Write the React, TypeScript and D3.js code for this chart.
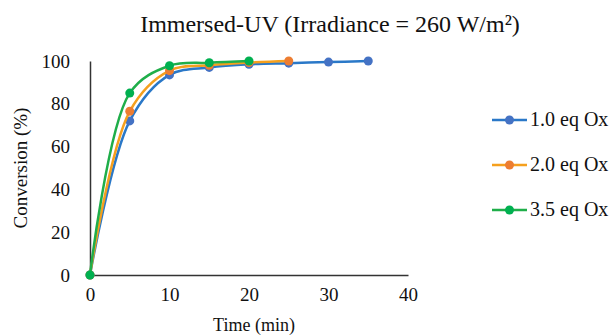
import React, { useRef, useEffect } from 'react';
import * as d3 from 'd3';

const seriesNames = ['1.0 eq Ox', '2.0 eq Ox', '3.5 eq Ox'];
const lineColors = ['#2a78c8', '#f5a01e', '#1fae4a'];
const markerColors = ['#4472c4', '#ed7d31', '#00b050'];

const time1 = [0, 5, 10, 15, 20, 25, 30, 35];
const conv1 = [0, 72, 93.5, 97, 98.5, 99, 99.5, 100];
const time2 = [0, 5, 10, 15, 20, 25];
const conv2 = [0, 76.5, 95.5, 98, 99.3, 100];
const time3 = [0, 5, 10, 15, 20];
const conv3 = [0, 85, 97.8, 99.2, 100];

const xTicks = [0, 10, 20, 30, 40];
const yTicks = [0, 20, 40, 60, 80, 100];

const W = 611;
const H = 336;
const margin = { top: 61, left: 90, right: 204, bottom: 61 };

const App = () => {
  const svgRef = useRef<SVGSVGElement>(null);

  const drawChart = (node: SVGSVGElement) => {
    const svg = d3.select(node);
    svg.selectAll('*').remove();
    const font = '"Liberation Serif", "Times New Roman", serif';

    const x = d3.scaleLinear().domain([0, 40]).range([margin.left, W - margin.right + 1]);
    const y = d3.scaleLinear().domain([0, 100]).range([H - margin.bottom, margin.top]);

    svg.append('text')
      .attr('x', 330).attr('y', 32)
      .attr('text-anchor', 'middle')
      .style('font-family', font).style('font-size', '24px').attr('fill', '#111')
      .text('Immersed-UV (Irradiance = 260 W/m²)');

    // axes
    const xAxis = svg.append('g')
      .attr('transform', `translate(0,${y(0)})`)
      .call(d3.axisBottom(x).tickValues(xTicks).tickSize(0).tickPadding(13));
    xAxis.select('.domain').attr('stroke', '#333').attr('stroke-width', 1.5);
    xAxis.selectAll('text').style('font-family', font).style('font-size', '19px').attr('fill', '#111');

    const yAxis = svg.append('g')
      .attr('transform', `translate(${x(0)},0)`)
      .call(d3.axisLeft(y).tickValues(yTicks).tickSize(0).tickPadding(20));
    yAxis.select('.domain').attr('stroke', '#333').attr('stroke-width', 1.5);
    yAxis.selectAll('text').style('font-family', font).style('font-size', '19px').attr('fill', '#111');

    svg.append('text')
      .attr('x', (x(0) + x(40)) / 2 + 5).attr('y', 331)
      .attr('text-anchor', 'middle')
      .style('font-family', font).style('font-size', '18px').attr('fill', '#111')
      .text('Time (min)');

    svg.append('text')
      .attr('transform', `translate(27,${(y(0) + y(100)) / 2}) rotate(-90)`)
      .attr('text-anchor', 'middle')
      .style('font-family', font).style('font-size', '19px').attr('fill', '#111')
      .text('Conversion (%)');

    const series = [
      time1.map((t, i) => [t, conv1[i]]),
      time2.map((t, i) => [t, conv2[i]]),
      time3.map((t, i) => [t, conv3[i]]),
    ];

    const line = d3.line<number[]>()
      .x((d) => x(d[0]))
      .y((d) => y(d[1]))
      .curve(d3.curveCatmullRom.alpha(0.5));

    series.forEach((pts, s) => {
      svg.append('path')
        .datum(pts)
        .attr('d', line)
        .attr('fill', 'none')
        .attr('stroke', lineColors[s])
        .attr('stroke-width', 2.5);
      svg.selectAll(null)
        .data(pts)
        .join('circle')
        .attr('cx', (d) => x(d[0]))
        .attr('cy', (d) => y(d[1]))
        .attr('r', 4.5)
        .attr('fill', markerColors[s]);
    });

    // legend
    const legend = svg.append('g');
    seriesNames.forEach((name, i) => {
      const ly = 120 + i * 45;
      legend.append('line')
        .attr('x1', 492).attr('x2', 527).attr('y1', ly).attr('y2', ly)
        .attr('stroke', lineColors[i]).attr('stroke-width', 2.5);
      legend.append('circle')
        .attr('cx', 509.5).attr('cy', ly).attr('r', 4.5).attr('fill', markerColors[i]);
      legend.append('text')
        .attr('x', 530).attr('y', ly + 6)
        .style('font-family', font).style('font-size', '20px').attr('fill', '#111')
        .text(name);
    });
  };

  useEffect(() => {
    if (svgRef.current) {
      drawChart(svgRef.current);
    }
  }, [svgRef]);

  return (
    <svg ref={svgRef} width={W} height={H}
      style={{ position: 'absolute', left: 0, top: 0, background: '#fff' }} />
  );
};

export default App;
